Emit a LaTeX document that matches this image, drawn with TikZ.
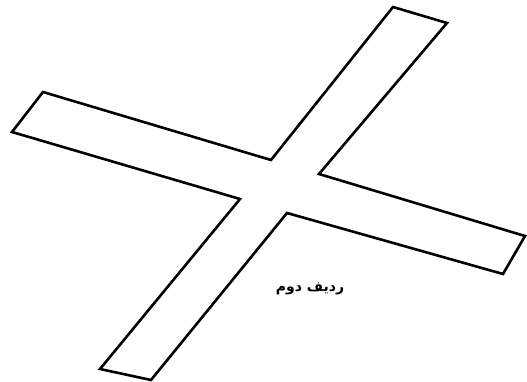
\documentclass[tikz,border=0pt]{standalone}
\usepackage{fontspec}
\newfontfamily\arabicfont[Script=Arabic]{DejaVu Sans}
\TeXXeTstate=1
\tikzset{
  stripline/.style={draw=black, line width=2.6pt, line join=miter},
  rowlabel/.style={font=\arabicfont\bfseries\fontsize{14}{16}\selectfont, inner sep=0pt}
}
\begin{document}
\begin{tikzpicture}[x=1pt,y=-1pt]
\useasboundingbox (0,0) rectangle (527,382);
% corners of the cross, clockwise from the left arm
\coordinate (la) at (43,92);
\coordinate (ci1) at (271,160);
\coordinate (ta) at (393,7);
\coordinate (tb) at (447,23);
\coordinate (ci2) at (319,174);
\coordinate (ra) at (525,236);
\coordinate (rb) at (503,274);
\coordinate (ci3) at (287,213);
\coordinate (ba) at (151,380);
\coordinate (bb) at (100,369);
\coordinate (ci4) at (240,199);
\coordinate (lb) at (12,132);
\draw[stripline] (la) -- (ci1) -- (ta) -- (tb) -- (ci2) -- (ra) -- (rb)
  -- (ci3) -- (ba) -- (bb) -- (ci4) -- (lb) -- cycle;
\node[rowlabel] (row) at (310,289) {\beginR ردیف دوم\endR};
\end{tikzpicture}
\end{document}
